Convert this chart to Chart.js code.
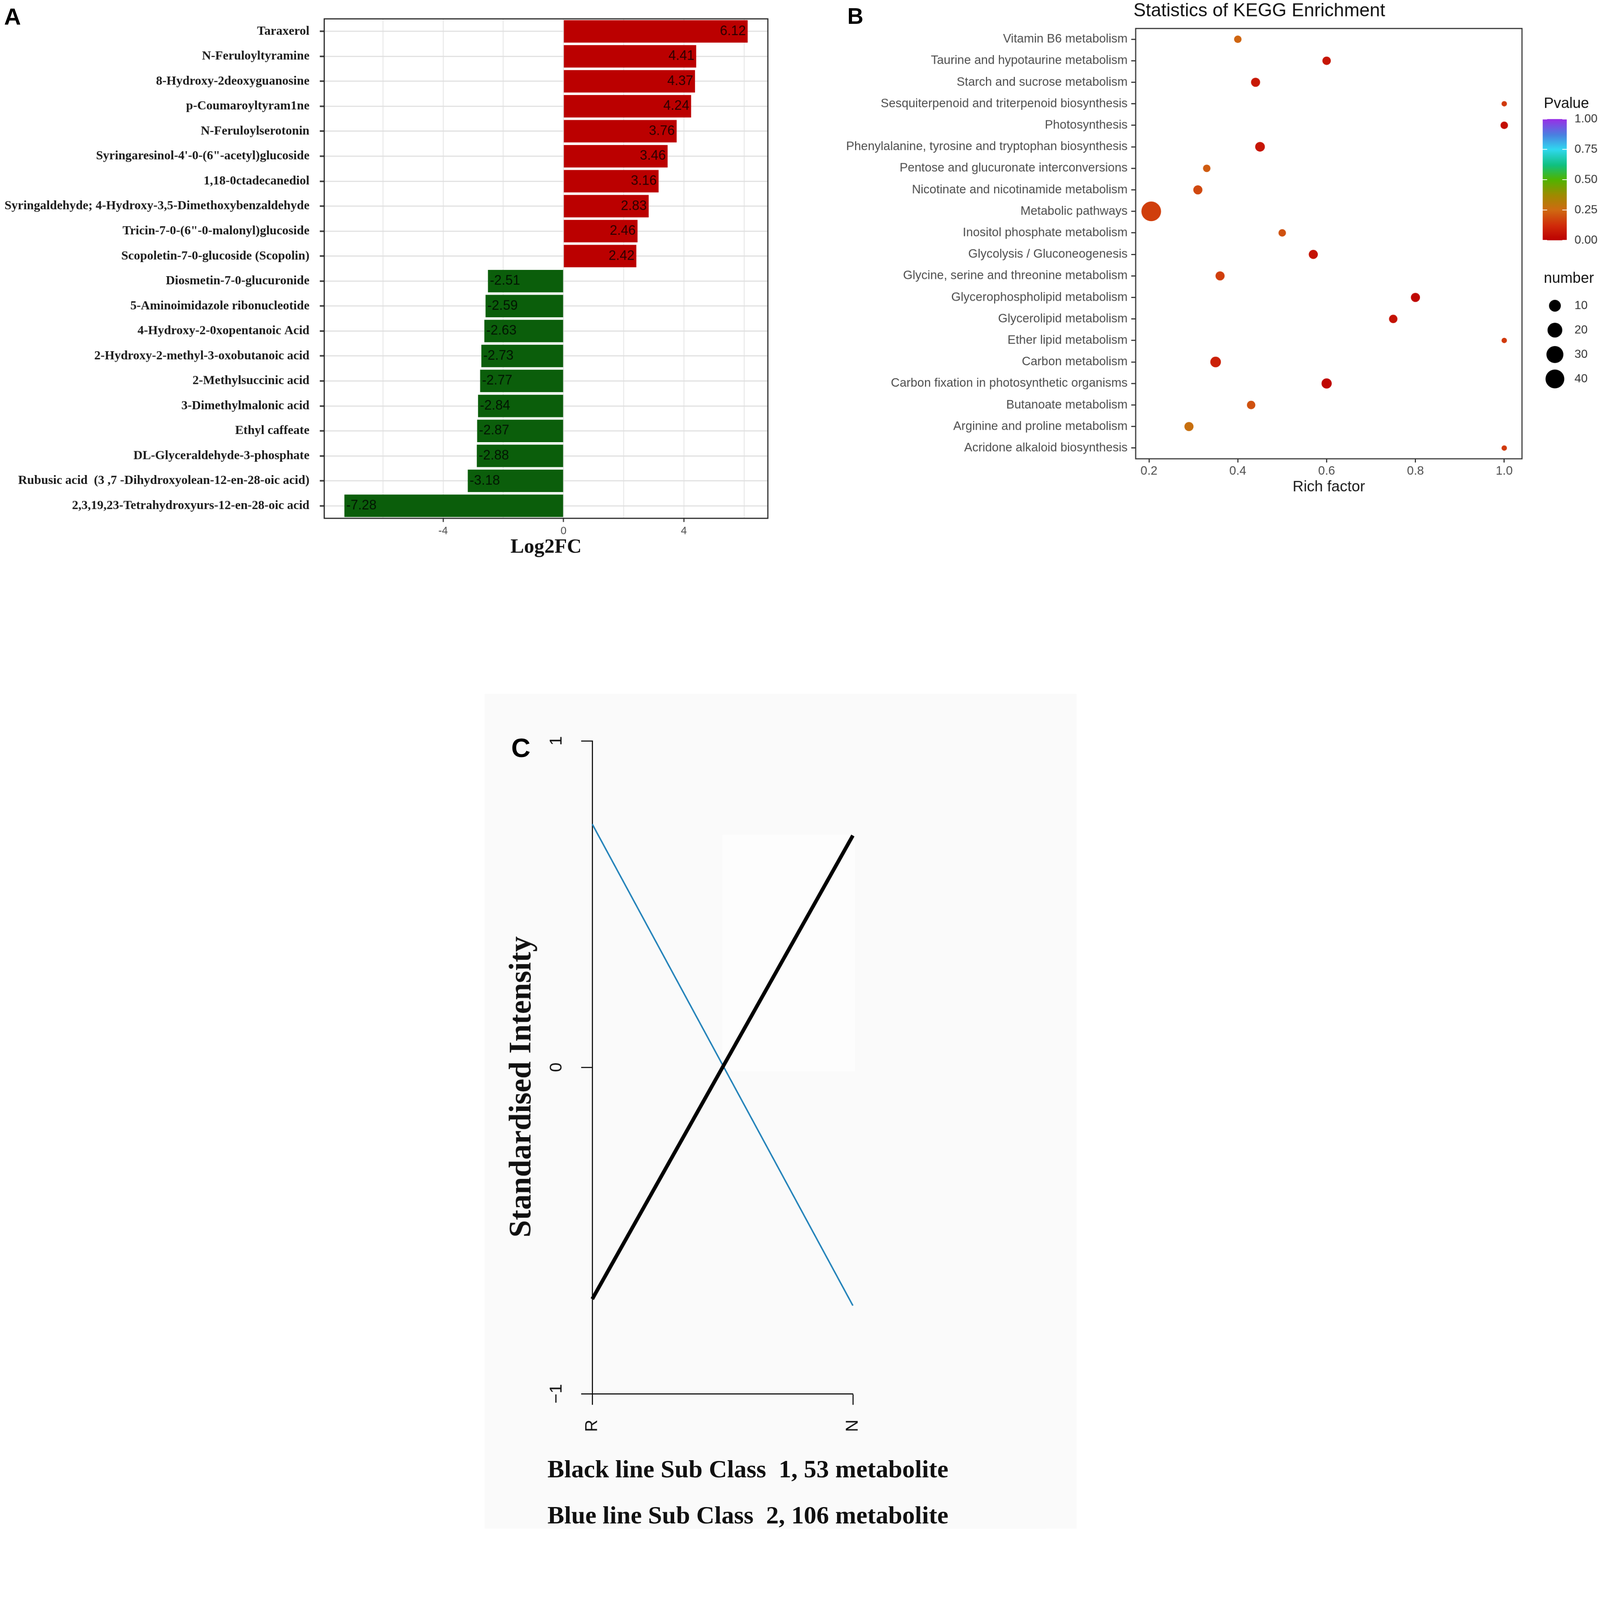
<!DOCTYPE html>
<html>
<head>
<meta charset="utf-8">
<script src="https://cdn.jsdelivr.net/npm/chart.js@4.4.0/dist/chart.umd.min.js"></script>
<style>
  html, body { margin: 0; padding: 0; background: #ffffff; overflow: hidden; }
  #page { position: absolute; left: 0; top: 0; width: 4328px; height: 4135px; transform-origin: 0 0; }
  canvas, .tag, .note, .shade { position: absolute; }
  .tag { font-family: "Liberation Sans", Arial, sans-serif; font-weight: bold; line-height: 1; color: #000; }
  .note { font-family: "Liberation Serif", "Times New Roman", serif; font-weight: bold; font-size: 68px; line-height: 1; white-space: pre; color: #111; }
</style>
</head>
<body>
<div id="page">
  <div class="shade" style="left:1311px;top:1877px;width:1601px;height:2258px;background:#fafafa"></div>
  <div class="shade" style="left:1954px;top:2258px;width:359px;height:640px;background:#fdfdfd"></div>
  <canvas id="chartA" width="2170" height="1550" style="left:0;top:0"></canvas>
  <canvas id="chartB" width="2158" height="1400" style="left:2170px;top:0"></canvas>
  <canvas id="chartC" width="1650" height="2255" style="left:1300px;top:1880px"></canvas>
  <div class="tag" style="left:11px;top:14px;font-size:63px">A</div>
  <div class="tag" style="left:2292px;top:14px;font-size:60px">B</div>
  <div class="tag" style="left:1383px;top:1987px;font-size:72px">C</div>
  <div class="note" style="left:1481px;top:3939px">Black line Sub Class  1, 53 metabolite</div>
  <div class="note" style="left:1481px;top:4064px">Blue line Sub Class  2, 106 metabolite</div>
</div>

<script>
"use strict";

// Panel A: log2 fold change of the differential metabolites (top to bottom)
const metabolites = [
  "Taraxerol",
  "N-Feruloyltyramine",
  "8-Hydroxy-2deoxyguanosine",
  "p-Coumaroyltyram1ne",
  "N-Feruloylserotonin",
  "Syringaresinol-4'-0-(6\"-acetyl)glucoside",
  "1,18-0ctadecanediol",
  "Syringaldehyde; 4-Hydroxy-3,5-Dimethoxybenzaldehyde",
  "Tricin-7-0-(6\"-0-malonyl)glucoside",
  "Scopoletin-7-0-glucoside (Scopolin)",
  "Diosmetin-7-0-glucuronide",
  "5-Aminoimidazole ribonucleotide",
  "4-Hydroxy-2-0xopentanoic Acid",
  "2-Hydroxy-2-methyl-3-oxobutanoic acid",
  "2-Methylsuccinic acid",
  "3-Dimethylmalonic acid",
  "Ethyl caffeate",
  "DL-Glyceraldehyde-3-phosphate",
  "Rubusic acid  (3 ,7 -Dihydroxyolean-12-en-28-oic acid)",
  "2,3,19,23-Tetrahydroxyurs-12-en-28-oic acid",
];
const log2FC = [6.12, 4.41, 4.37, 4.24, 3.76, 3.46, 3.16, 2.83, 2.46, 2.42,
  -2.51, -2.59, -2.63, -2.73, -2.77, -2.84, -2.87, -2.88, -3.18, -7.28];
const log2FCTicks = [-6, -4, -2, 0, 2, 4, 6];

// Panel B: KEGG enrichment (top to bottom)
const pathways = [
  "Vitamin B6 metabolism",
  "Taurine and hypotaurine metabolism",
  "Starch and sucrose metabolism",
  "Sesquiterpenoid and triterpenoid biosynthesis",
  "Photosynthesis",
  "Phenylalanine, tyrosine and tryptophan biosynthesis",
  "Pentose and glucuronate interconversions",
  "Nicotinate and nicotinamide metabolism",
  "Metabolic pathways",
  "Inositol phosphate metabolism",
  "Glycolysis / Gluconeogenesis",
  "Glycine, serine and threonine metabolism",
  "Glycerophospholipid metabolism",
  "Glycerolipid metabolism",
  "Ether lipid metabolism",
  "Carbon metabolism",
  "Carbon fixation in photosynthetic organisms",
  "Butanoate metabolism",
  "Arginine and proline metabolism",
  "Acridone alkaloid biosynthesis",
];
const richFactor = [0.40, 0.60, 0.44, 1.00, 1.00, 0.45, 0.33, 0.31, 0.205, 0.50,
  0.57, 0.36, 0.80, 0.75, 1.00, 0.35, 0.60, 0.43, 0.29, 1.00];
const pathwayCounts = [2, 3, 4, 1, 2, 5, 2, 4, 45, 2, 4, 4, 4, 3, 1, 7, 6, 3, 4, 1];
const pValues = [0.24, 0.06, 0.07, 0.15, 0.04, 0.06, 0.22, 0.18, 0.16, 0.20,
  0.05, 0.16, 0.02, 0.05, 0.15, 0.09, 0.02, 0.20, 0.27, 0.15];
const richFactorTicks = [0.2, 0.4, 0.6, 0.8, 1.0];
const pValueTicks = [0, 0.25, 0.5, 0.75, 1];
const countTicks = [10, 20, 30, 40];

// Panel C: standardised intensity of the two sub classes
const groups = ["R", "N"];
const subClass1 = [-0.71, 0.71];
const subClass2 = [0.745, -0.73];
const intensityTicks = [-1, 0, 1];

// Fit the 4328 x 4135 composition into whatever viewport we get
const page = document.getElementById("page");
const fit = Math.min(window.innerWidth / 4328, window.innerHeight / 4135);
page.style.transform = `scale(${fit})`;

Chart.defaults.font.family = '"Liberation Sans", Arial, sans-serif';

// Pvalue colour ramp (red -> orange -> green -> cyan -> purple)
const rampStops = [
  [0.00, [188, 0, 0]],
  [0.12, [208, 42, 10]],
  [0.25, [207, 106, 18]],
  [0.37, [160, 138, 0]],
  [0.50, [80, 180, 0]],
  [0.62, [16, 192, 128]],
  [0.75, [48, 216, 240]],
  [0.87, [74, 128, 224]],
  [1.00, [154, 46, 230]],
];

function pColour(p) {
  for (let i = 1; i < rampStops.length; i++) {
    const [p1, c1] = rampStops[i];
    const [p0, c0] = rampStops[i - 1];
    if (p <= p1) {
      const t = (p - p0) / (p1 - p0);
      const c = c0.map((v, k) => Math.round(v + (c1[k] - v) * t));
      return `rgb(${c[0]}, ${c[1]}, ${c[2]})`;
    }
  }
  return "rgb(154, 46, 230)";
}

// Dot size: area scale between the smallest and largest count
const countMin = Math.min(...pathwayCounts);
const countMax = Math.max(...pathwayCounts);
function dotRadius(n) {
  const t = Math.sqrt(Math.max(0, (n - countMin) / (countMax - countMin)));
  return (14.5 + 38.7 * t) / 2;
}

function fixedTicks(list) {
  return (scale) => { scale.ticks = list.map((v) => ({ value: v })); };
}

// Dark frame around the plotting area
const panelBorder = {
  id: "panelBorder",
  afterDatasetsDraw(chart, args, opts) {
    const { ctx, chartArea: a } = chart;
    ctx.save();
    ctx.strokeStyle = opts.color || "#222";
    ctx.lineWidth = opts.width || 3;
    ctx.strokeRect(a.left, a.top, a.right - a.left, a.bottom - a.top);
    ctx.restore();
  },
};

// Value written at the end of each bar
const barValueLabels = {
  id: "barValueLabels",
  afterDatasetsDraw(chart) {
    const { ctx } = chart;
    const values = chart.data.datasets[0].data;
    ctx.save();
    ctx.font = '36px "Liberation Sans"';
    ctx.fillStyle = "rgba(0, 0, 0, 0.78)";
    ctx.textBaseline = "middle";
    chart.getDatasetMeta(0).data.forEach((bar, i) => {
      const v = values[i];
      ctx.textAlign = v > 0 ? "right" : "left";
      ctx.fillText(v.toFixed(2), bar.x + (v > 0 ? -5 : 5), bar.y);
    });
    ctx.restore();
  },
};

// Title plus colour bar and size legend for the bubble plot
const keggLegend = {
  id: "keggLegend",
  afterDraw(chart) {
    const { ctx, chartArea: a } = chart;
    ctx.save();
    ctx.textBaseline = "middle";
    ctx.textAlign = "left";
    ctx.fillStyle = "#111";
    ctx.font = '50px "Liberation Sans"';
    ctx.fillText("Statistics of KEGG Enrichment", a.left - 6, 30);

    const barX = a.right + 56;
    const barW = 65;
    const barTop = 322;
    const barBottom = 650;
    ctx.font = '40px "Liberation Sans"';
    ctx.fillText("Pvalue", barX + 3, 281);
    const grad = ctx.createLinearGradient(0, barBottom, 0, barTop);
    rampStops.forEach(([p, c]) => grad.addColorStop(p, `rgb(${c[0]}, ${c[1]}, ${c[2]})`));
    ctx.fillStyle = grad;
    ctx.fillRect(barX, barTop, barW, barBottom - barTop);
    ctx.strokeStyle = "#ffffff";
    ctx.lineWidth = 2;
    ctx.font = '32px "Liberation Sans"';
    pValueTicks.forEach((v) => {
      const y = barBottom - v * (barBottom - barTop);
      ctx.beginPath();
      ctx.moveTo(barX, y); ctx.lineTo(barX + 12, y);
      ctx.moveTo(barX + barW - 12, y); ctx.lineTo(barX + barW, y);
      ctx.stroke();
      ctx.fillStyle = "#333";
      ctx.fillText(v.toFixed(2), barX + barW + 21, y);
    });

    ctx.fillStyle = "#111";
    ctx.font = '40px "Liberation Sans"';
    ctx.fillText("number", barX + 3, 754);
    ctx.font = '32px "Liberation Sans"';
    countTicks.forEach((n, k) => {
      const y = 827 + k * 66;
      ctx.fillStyle = "#000";
      ctx.beginPath();
      ctx.arc(barX + 33, y, dotRadius(n), 0, Math.PI * 2);
      ctx.fill();
      ctx.fillStyle = "#333";
      ctx.fillText(String(n), barX + barW + 21, y);
    });
    ctx.restore();
  },
};

// Rotated y tick labels and y title, drawn the way base R does
const rotatedAxisText = {
  id: "rotatedAxisText",
  afterDraw(chart) {
    const { ctx, scales: { y }, chartArea: a } = chart;
    ctx.save();
    ctx.fillStyle = "#111";
    ctx.textAlign = "center";
    ctx.textBaseline = "middle";
    ctx.font = '46px "Liberation Sans"';
    intensityTicks.forEach((v) => {
      ctx.save();
      ctx.translate(y.right - 96, y.getPixelForValue(v));
      ctx.rotate(-Math.PI / 2);
      ctx.fillText(v < 0 ? "\u2212" + Math.abs(v) : String(v), 0, 0);
      ctx.restore();
    });
    ctx.font = 'bold 84px "Liberation Serif"';
    ctx.translate(113, a.top + (a.bottom - a.top) * 0.53);
    ctx.rotate(-Math.PI / 2);
    ctx.fillText("Standardised Intensity", 0, 0);
    ctx.restore();
  },
};

// ---- Panel A ----
new Chart(document.getElementById("chartA"), {
  type: "bar",
  data: {
    labels: metabolites,
    datasets: [{
      data: log2FC,
      backgroundColor: log2FC.map((v) => (v > 0 ? "#bb0000" : "#0b5e0b")),
      borderWidth: 0,
      barPercentage: 0.9,
      categoryPercentage: 1,
    }],
  },
  options: {
    indexAxis: "y",
    responsive: false,
    animation: false,
    layout: { padding: { top: 51, right: 93, left: 0, bottom: 0 } },
    plugins: {
      legend: { display: false },
      tooltip: { enabled: false },
      panelBorder: { color: "#222", width: 3 },
    },
    scales: {
      x: {
        min: -7.95,
        max: 6.79,
        afterBuildTicks: fixedTicks(log2FCTicks),
        afterFit: (s) => { s.height = 148; },
        ticks: {
          callback: (v) => (v % 4 === 0 ? String(v) : ""),
          color: "#4d4d4d",
          font: { size: 29 },
          padding: 8,
          maxRotation: 0,
          autoSkip: false,
        },
        grid: {
          color: "#e3e3e3",
          lineWidth: 2,
          tickLength: 10,
          tickWidth: 3,
          tickColor: (c) => (c.tick && c.tick.value % 4 === 0 ? "#333" : "rgba(0,0,0,0)"),
        },
        border: { display: false },
        title: {
          display: true,
          text: "Log2FC",
          color: "#111",
          font: { family: '"Liberation Serif"', size: 55, weight: "bold" },
          padding: { top: 0, bottom: 36 },
        },
      },
      y: {
        afterFit: (s) => { s.width = 877; },
        ticks: {
          color: "#1a1a1a",
          font: { family: '"Liberation Serif"', size: 34, weight: "bold" },
          padding: 28,
          autoSkip: false,
        },
        grid: { offset: false, color: "#e0e0e0", lineWidth: 3, tickLength: 12, tickColor: "#333", tickWidth: 4 },
        border: { display: false },
      },
    },
  },
  plugins: [panelBorder, barValueLabels],
});

// ---- Panel B ----
new Chart(document.getElementById("chartB"), {
  type: "scatter",
  data: {
    labels: pathways,
    datasets: [{
      data: pathways.map((name, i) => ({ x: richFactor[i], y: name })),
      pointRadius: pathwayCounts.map(dotRadius),
      pointHoverRadius: pathwayCounts.map(dotRadius),
      pointBackgroundColor: pValues.map(pColour),
      pointBorderWidth: 0,
    }],
  },
  options: {
    responsive: false,
    animation: false,
    layout: { padding: { top: 77, right: 211, left: 0, bottom: 0 } },
    plugins: {
      legend: { display: false },
      tooltip: { enabled: false },
      panelBorder: { color: "#333", width: 3 },
    },
    scales: {
      x: {
        type: "linear",
        min: 0.17,
        max: 1.04,
        afterBuildTicks: fixedTicks(richFactorTicks),
        afterFit: (s) => { s.height = 159; },
        ticks: {
          callback: (v) => v.toFixed(1),
          color: "#4d4d4d",
          font: { size: 33 },
          padding: 4,
          maxRotation: 0,
          autoSkip: false,
        },
        grid: { drawOnChartArea: false, tickLength: 10, tickColor: "#333", tickWidth: 3 },
        border: { display: false },
        title: {
          display: true,
          text: "Rich factor",
          color: "#1a1a1a",
          font: { size: 41 },
          padding: { top: 0, bottom: 58 },
        },
      },
      y: {
        type: "category",
        labels: pathways,
        offset: true,
        afterFit: (s) => { s.width = 902; },
        ticks: { color: "#4d4d4d", font: { size: 33 }, padding: 10, autoSkip: false },
        grid: { drawOnChartArea: false, offset: false, tickLength: 12, tickColor: "#333", tickWidth: 3 },
        border: { display: false },
      },
    },
  },
  plugins: [panelBorder, keggLegend],
});

// ---- Panel C ----
new Chart(document.getElementById("chartC"), {
  type: "line",
  data: {
    labels: groups,
    datasets: [
      { data: subClass1, borderColor: "#000000", borderWidth: 10, pointRadius: 0, tension: 0 },
      { data: subClass2, borderColor: "#1f80b8", borderWidth: 4, pointRadius: 0, tension: 0 },
    ],
  },
  options: {
    responsive: false,
    animation: false,
    layout: { padding: { top: 124, right: 643, left: 0, bottom: 0 } },
    plugins: { legend: { display: false }, tooltip: { enabled: false } },
    scales: {
      x: {
        offset: false,
        afterFit: (s) => { s.height = 365; },
        ticks: {
          minRotation: 90,
          maxRotation: 90,
          padding: 40,
          color: "#111",
          font: { size: 46 },
        },
        grid: { drawOnChartArea: false, tickLength: 30, tickColor: "#111", tickWidth: 3 },
        border: { color: "#111", width: 3 },
      },
      y: {
        min: -1,
        max: 1,
        afterBuildTicks: fixedTicks(intensityTicks),
        afterFit: (s) => { s.width = 302; },
        ticks: { display: false },
        grid: { drawOnChartArea: false, tickLength: 30, tickColor: "#111", tickWidth: 3 },
        border: { color: "#111", width: 3 },
      },
    },
  },
  plugins: [rotatedAxisText],
});
</script>
</body>
</html>
